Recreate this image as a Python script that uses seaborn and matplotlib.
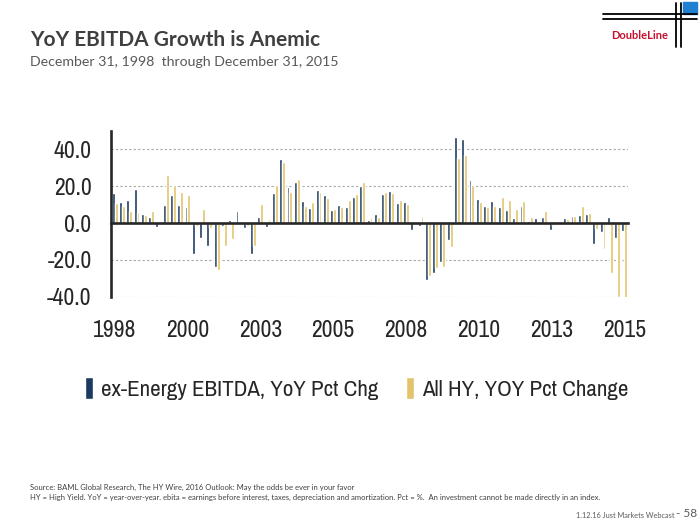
import numpy as np
import pandas as pd
import matplotlib
matplotlib.use("Agg")
import matplotlib.pyplot as plt
import seaborn as sns
from matplotlib import font_manager
from matplotlib.lines import Line2D
from matplotlib.patches import Rectangle

# quarterly YoY % change, 1998Q2 .. 2015Q4
quarters = [str(q) for q in pd.period_range("1998Q2", "2015Q4", freq="Q")]

ex_energy = [16.2, 11.5, 12.4, 18.6, 5.0, 3.2, -2.2, 9.7, 15.3, 9.7,
             8.8, -16.6, -8.1, -12.3, -24.0, -1.8, 1.4, 6.3, -2.9, -16.8,
             3.1, -2.0, 16.2, 34.6, 19.8, 22.2, 12.1, 8.4, 18.0, 15.1,
             7.0, 10.0, 8.6, 14.1, 20.2, 1.4, 4.7, 15.7, 17.3, 10.8,
             11.5, -4.0, -1.4, -31.2, -27.4, -21.3, -9.3, 46.5, 45.6, 23.6,
             13.2, 9.5, 11.9, 8.5, 6.9, 2.9, 9.2, 1.0, 2.5, 3.4,
             -4.0, 0.5, 2.5, 4.0, 4.5, 4.7, -11.2, -5.0, 3.2, -7.9, -4.3]

all_hy = [11.0, 9.0, 6.8, 6.2, 4.5, 6.5, 0.3, 26.1, 20.6, 16.7,
          15.0, -1.5, 7.7, -2.7, -25.6, -12.2, -8.4, 0.8, -1.8, -12.5,
          10.4, 2.3, 20.7, 33.0, 16.8, 23.9, 9.5, 11.6, 17.1, 13.5,
          7.7, 8.6, 12.6, 15.6, 22.5, 3.2, 3.4, 16.7, 16.2, 12.6,
          10.5, 0.5, 4.0, -28.5, -24.5, -23.8, -13.0, 35.6, 36.8, 20.7,
          11.6, 8.8, 9.5, 14.0, 12.6, 7.7, 12.2, 3.2, 0.5, 6.5,
          -1.5, 1.0, 2.2, 4.0, 9.3, 5.4, -3.3, -14.2, -27.0, -40.1, -40.5]

series_names = ["ex-Energy EBITDA, YoY Pct Chg", "All HY, YOY Pct Change"]
colors = ["#1B3A5F", "#E3C46C"]
year_ticks = list(range(0, 71, 10))
year_labels = ["1998", "2000", "2003", "2005", "2008", "2010", "2013", "2015"]

df = pd.DataFrame({"Quarter": quarters * 2,
                   "Value": ex_energy + all_hy,
                   "Series": [series_names[0]] * len(quarters) + [series_names[1]] * len(quarters)})

# chart text is Arial Narrow-like; use a narrow face if there is one
have_narrow = any(f.name == "Archivo Narrow" for f in font_manager.fontManager.ttflist)
if have_narrow:
    narrow, tick_size, legend_size = ["Archivo Narrow", "DejaVu Sans"], 17, 16.5
else:
    narrow, tick_size, legend_size = ["Liberation Sans", "DejaVu Sans"], 15, 14

sns.set_style("white")
plt.rcParams["font.family"] = ["Lato", "DejaVu Sans"]

fig = plt.figure(figsize=(7, 5.25), dpi=100)
ax = fig.add_axes([0.1586, 0.4349, 0.7386, 0.3155])

sns.barplot(data=df, x="Quarter", y="Value", hue="Series", order=quarters,
            hue_order=series_names, palette=colors, saturation=1, width=0.8,
            ax=ax)

ax.spines["top"].set_visible(False)
ax.spines["right"].set_visible(False)
ax.spines["bottom"].set_position(("data", 0))
ax.spines["bottom"].set_linewidth(1.9)
ax.spines["left"].set_linewidth(1.9)
ax.spines["bottom"].set_zorder(5)

ax.set_xlim(-0.5, len(quarters) - 0.5)
ax.set_ylim(-40, 50)
ax.set_yticks([-40, -20, 0, 20, 40])
ax.set_yticklabels([f"{v:.1f}" for v in [-40, -20, 0, 20, 40]])
ax.set_xticks(year_ticks)
ax.set_xticklabels(year_labels)
ax.set_xticks(np.array(year_ticks[1:]) - 0.5, minor=True)
ax.set_xlabel("")
ax.set_ylabel("")

for v in [-40, -20, 20, 40]:
    ax.axhline(v, color="#A6A6A6", lw=0.8, ls=(0, (2, 2)), zorder=0)

ax.tick_params(axis="y", direction="out", length=5, width=1.6, pad=9, color="black")
ax.tick_params(axis="x", which="major", length=0, pad=70)
ax.tick_params(axis="x", which="minor", direction="out", length=5.5, width=1.6, color="black")
for lab in ax.get_xticklabels() + ax.get_yticklabels():
    lab.set_fontfamily(narrow)
    lab.set_fontsize(tick_size)

handles, labels = ax.get_legend_handles_labels()
ax.legend(handles, labels, loc="center", bbox_to_anchor=(0.51, 0.26),
          bbox_transform=fig.transFigure, ncol=2, frameon=False,
          prop={"family": narrow, "size": legend_size}, handlelength=0.35,
          handleheight=1.1, handletextpad=0.35, columnspacing=1.2)

# titles
fig.text(0.043, 0.924, "YoY EBITDA Growth is Anemic", fontsize=15,
         fontweight="bold", color="#404040", va="center")
fig.text(0.043, 0.882, "December 31, 1998  through December 31, 2015",
         fontsize=10.2, color="#595959", va="center")

# logo
for yy in [0.973, 0.963]:
    fig.add_artist(Line2D([0.861, 0.996], [yy, yy], color="black", lw=1.3,
                          transform=fig.transFigure))
for xx in [0.966, 0.973]:
    fig.add_artist(Line2D([xx, xx], [0.910, 0.995], color="black", lw=1.3,
                          transform=fig.transFigure))
fig.add_artist(Rectangle((0.976, 0.974), 0.02, 0.022, color="#1F7FD0",
                         transform=fig.transFigure))
fig.text(0.914, 0.933, "DoubleLine", fontsize=8, fontweight="bold",
         color="#C8102E", ha="center", va="center")

# footer
fig.text(0.043, 0.0724, "Source: BAML Global Research, The HY Wire, 2016 Outlook: May the odds be ever in your favor",
         fontsize=5.5, color="#404040", va="center")
fig.text(0.043, 0.0533, "HY = High Yield. YoY = year-over-year. ebita = earnings before interest, taxes, depreciation and amortization. Pct = %.  An investment cannot be made directly in an index.",
         fontsize=5.5, color="#404040", va="center")
fig.text(0.963, 0.019, "1.12.16 Just Markets Webcast", fontsize=5.3,
         color="#595959", ha="right", va="center")
fig.text(0.996, 0.021, "- 58", fontsize=8.5, color="#595959", ha="right", va="center")

fig.savefig("out.png", dpi=100)
